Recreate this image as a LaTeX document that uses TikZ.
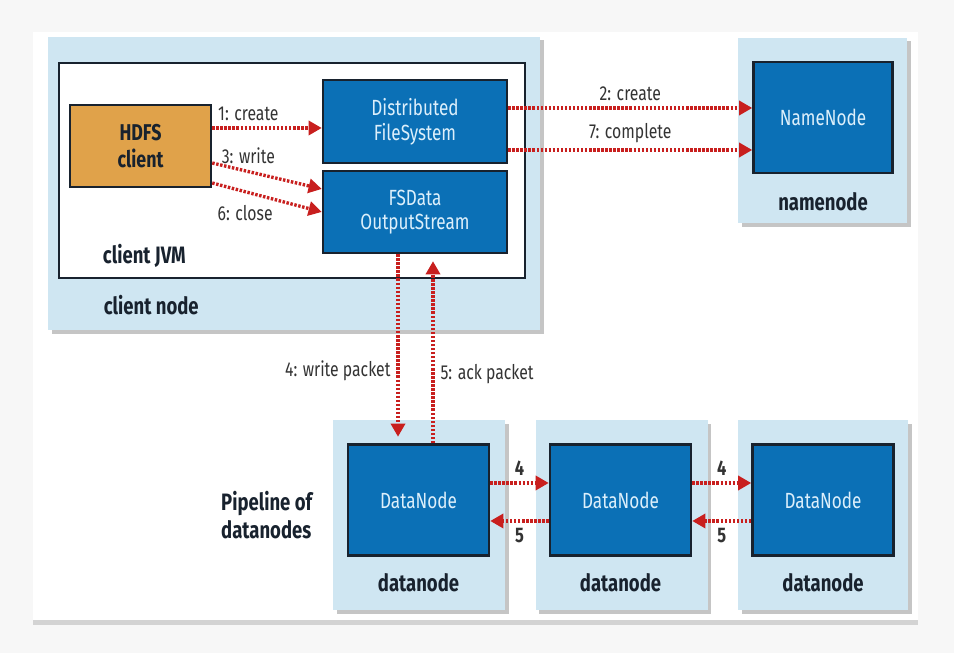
\documentclass[tikz,border=0pt]{standalone}
\usepackage{fontspec}
\setmainfont{Fira Sans}[FakeStretch=0.78]
\usetikzlibrary{shapes, arrows, arrows.meta, shadows}

\definecolor{hostblue}{HTML}{CFE6F2}
\definecolor{nodeblue}{HTML}{0B70B6}
\definecolor{boxline}{HTML}{18222E}
\definecolor{clientorange}{HTML}{E0A24A}
\definecolor{arrowred}{HTML}{C81F1E}
\definecolor{textlight}{HTML}{DCEFFB}

\tikzstyle{host} = [rectangle, fill=hostblue, inner sep=0pt,
    drop shadow={shadow xshift=2pt, shadow yshift=-2pt, opacity=0.45}]
\tikzstyle{jvm} = [rectangle, draw=boxline, line width=1.4pt, fill=white,
    minimum width=9.32cm, minimum height=4.3cm]
\tikzstyle{block} = [rectangle, draw=boxline, line width=1.4pt, fill=nodeblue,
    text=textlight, align=center, minimum width=2.82cm, minimum height=2.22cm,
    font=\fontsize{12.5}{14}\selectfont]
\tikzstyle{client} = [rectangle, draw=boxline, line width=1.4pt, fill=clientorange,
    text=boxline, align=center, minimum width=2.82cm, minimum height=1.64cm,
    font=\bfseries\fontsize{13}{15}\selectfont]
\tikzstyle{hostname} = [text=boxline, font=\bfseries\fontsize{13.5}{16}\selectfont]
\tikzstyle{msg} = [text=black!80, font=\fontsize{11.5}{13}\selectfont]
\tikzstyle{line} = [draw=arrowred, line width=1.9pt, dash pattern=on 1.4pt off 0.9pt,
    -{Triangle[length=7.5pt, width=8pt]}]

\begin{document}
\begin{tikzpicture}[node distance = 2cm]
        % Frame
        \fill [gray!6] (0,0) rectangle (19.08,13.06);
        \fill [white, drop shadow={shadow xshift=0pt, shadow yshift=-0.1cm, opacity=0.3}]
            (0.66,0.66) rectangle (18.36,12.42);
        % Place hosts
        \node [host, minimum width=9.84cm, minimum height=5.86cm] (clienthost) at (5.88,9.39) {};
        \node [host, minimum width=3.38cm, minimum height=3.7cm] (namehost) at (16.45,10.45) {};
        \node [host, minimum width=3.44cm, minimum height=3.8cm] (datahost1) at (8.38,2.76) {};
        \node [host, minimum width=3.44cm, minimum height=3.8cm, right of=datahost1, node distance=4.05cm] (datahost2) {};
        \node [host, minimum width=3.40cm, minimum height=3.8cm, right of=datahost2, node distance=4.03cm] (datahost3) {};
        \node [jvm] (jvm) at (5.84,9.65) {};
        % Place nodes
        \node [block] (dn1) at (8.37,3.06) {DataNode};
        \node [block, right of=dn1, node distance=4.04cm] (dn2) {DataNode};
        \node [block, right of=dn2, node distance=4.05cm] (dn3) {DataNode};
        \node [block, above of=dn3, node distance=7.65cm, minimum width=2.78cm] (nn) {NameNode};
        \node [block, minimum width=3.68cm, minimum height=1.66cm] (dfs) at (8.30,10.63) {Distributed\\FileSystem};
        \node [block, minimum width=3.68cm, minimum height=1.64cm, below of=dfs, node distance=1.81cm] (fsdata) {FSData\\OutputStream};
        \node [client] (hdfs) at (2.81,10.14) {HDFS\\client};
        % Host names
        \node [hostname, anchor=west] (jvmname) at ([xshift=0.78cm, yshift=0.46cm]jvm.south west) {client JVM};
        \node [hostname, anchor=west] (clientname) at ([xshift=1.0cm, yshift=0.5cm]clienthost.south west) {client node};
        \node [hostname, below of=nn, node distance=1.69cm] (namename) {namenode};
        \node [hostname, below of=dn1, node distance=1.66cm] (dataname1) {datanode};
        \node [hostname, below of=dn2, node distance=1.66cm] (dataname2) {datanode};
        \node [hostname, below of=dn3, node distance=1.66cm] (dataname3) {datanode};
        \node [hostname, align=left, anchor=west] (pipeline) at (4.3,2.76) {Pipeline of\\datanodes};
        % Draw edges
        \path [line] ([yshift=0.36cm]hdfs.east) -- node [msg, above, pos=0.33] {1: create} ([yshift=0.36cm]hdfs.east -| dfs.west);
        \path [line] ([yshift=-0.34cm]hdfs.east) -- node [msg, above, pos=0.33] {3: write} ([yshift=0.46cm]fsdata.west);
        \path [line] ([yshift=-0.74cm]hdfs.east) -- node [msg, below=0.12cm, pos=0.3] {6: close} (fsdata.west);
        \path [line] ([yshift=0.27cm]dfs.east) -- node [msg, above] {2: create} ([yshift=0.27cm]dfs.east -| nn.west);
        \path [line] ([yshift=-0.57cm]dfs.east) -- node [msg, above] {7: complete} ([yshift=-0.57cm]dfs.east -| nn.west);
        \path [line] ([xshift=-0.34cm]fsdata.south) -- node [msg, left, pos=0.64] {4: write packet} ([xshift=-0.34cm, yshift=0.13cm]fsdata.south |- dn1.north);
        \path [line] ([xshift=0.36cm]fsdata.south |- dn1.north) -- node [msg, right, pos=0.38] {5: ack packet} ([xshift=0.36cm, yshift=-0.14cm]fsdata.south);
        \path [line] ([yshift=0.34cm]dn1.east) -- node [msg, above, font=\bfseries\fontsize{12}{14}\selectfont] {4} ([yshift=0.34cm]dn2.west);
        \path [line] ([yshift=-0.42cm]dn2.west) -- node [msg, below, font=\bfseries\fontsize{12}{14}\selectfont] {5} ([yshift=-0.42cm]dn1.east);
        \path [line] ([yshift=0.34cm]dn2.east) -- node [msg, above, font=\bfseries\fontsize{12}{14}\selectfont] {4} ([yshift=0.34cm]dn3.west);
        \path [line] ([yshift=-0.42cm]dn3.west) -- node [msg, below, font=\bfseries\fontsize{12}{14}\selectfont] {5} ([yshift=-0.42cm]dn2.east);
    \end{tikzpicture}
\end{document}
